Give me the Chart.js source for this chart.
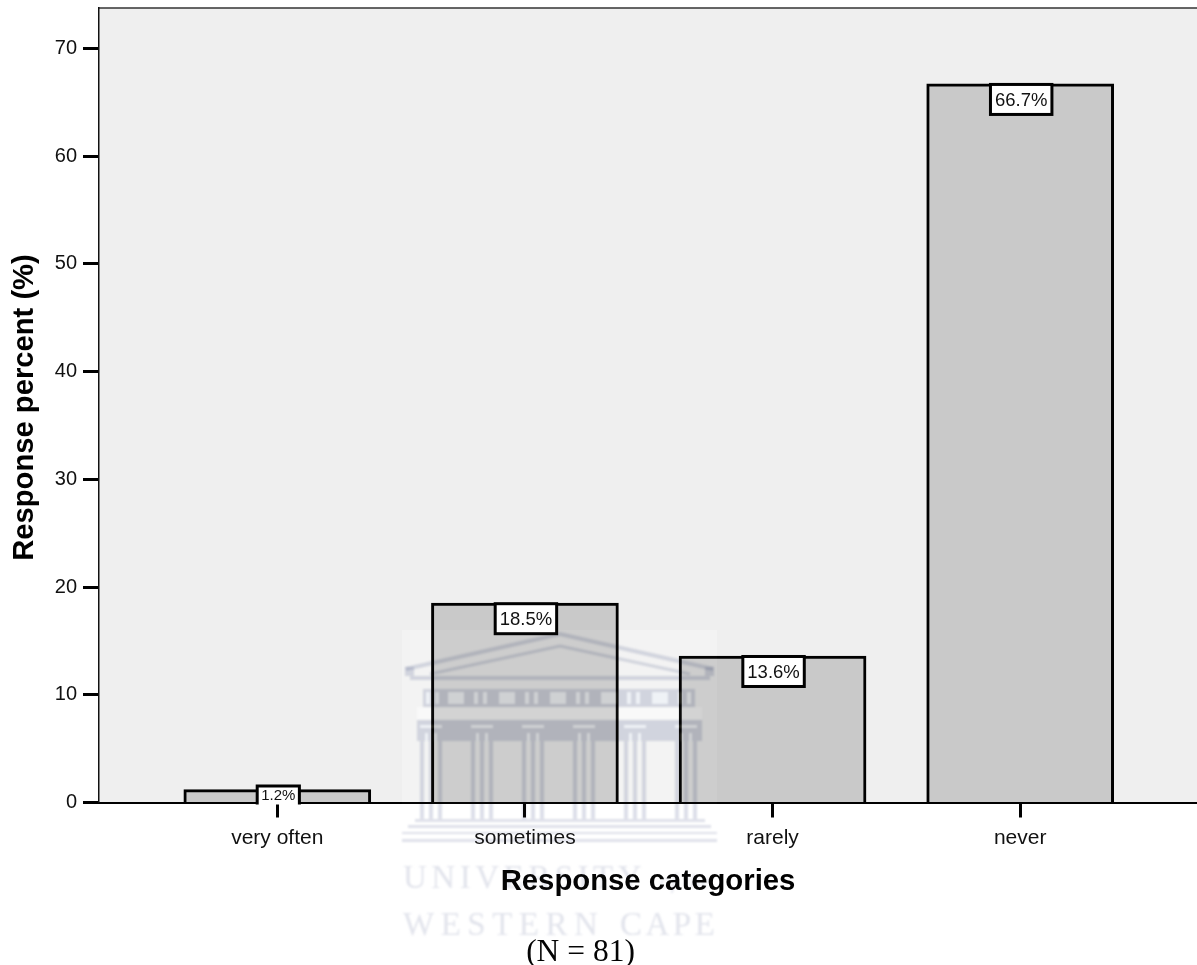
<!DOCTYPE html>
<html>
<head>
<meta charset="utf-8">
<title>Response categories</title>
<script src="https://cdn.jsdelivr.net/npm/chart.js@4/dist/chart.umd.min.js"></script>
<style>
  html, body { margin: 0; padding: 0; background: #fff; }
  #wrap { width: 1197px; height: 965px; }
</style>
</head>
<body>
<div id="wrap"><canvas id="responseChart" width="1197" height="965"></canvas></div>
<script>
// Response data
const categories = ['very often', 'sometimes', 'rarely', 'never'];
const responsePercent = [1.2, 18.5, 13.6, 66.7];
const percentLabels = ['1.2%', '18.5%', '13.6%', '66.7%'];
const yTickStep = 10;
const yAxisMax = 73.75;

const sansFont = '"Liberation Sans", Arial, sans-serif';
const serifFont = '"Liberation Serif", "Times New Roman", serif';

// plot background and the top frame line
const plotFrame = {
  id: 'plotFrame',
  beforeDraw: function (chart) {
    let ctx = chart.ctx;
    let area = chart.chartArea;
    ctx.save();
    ctx.fillStyle = '#fff';
    ctx.fillRect(0, 0, chart.width, chart.height);
    ctx.fillStyle = '#efefef';
    ctx.fillRect(area.left, area.top, area.right - area.left, area.bottom - area.top);
    ctx.strokeStyle = '#333';
    ctx.lineWidth = 1.5;
    ctx.beginPath();
    ctx.moveTo(area.left, area.top);
    ctx.lineTo(area.right, area.top);
    ctx.stroke();
    ctx.restore();
  }
};

// white boxes with the percent written inside the top of each bar
const valueBoxes = {
  id: 'valueBoxes',
  afterDraw: function (chart) {
    let ctx = chart.ctx;
    let baseline = chart.scales.y.getPixelForValue(0);
    let bars = chart.getDatasetMeta(0).data;
    ctx.save();
    bars.forEach(function (bar, i) {
      let small = baseline - bar.y < 30;
      let fontSize = small ? 15 : 18.5;
      ctx.font = fontSize + 'px ' + sansFont;
      let w = ctx.measureText(percentLabels[i]).width + (small ? 8 : 9);
      let h = small ? 18.5 : 30;
      let top = small ? baseline + 2 - h : bar.y + 0.5;
      let cx = bar.x + 1;
      ctx.fillStyle = '#fff';
      ctx.fillRect(cx - w / 2, top, w, h);
      ctx.strokeStyle = '#000';
      ctx.lineWidth = 3;
      if (small) {
        // the bottom edge is not drawn on the box sitting on the axis
        ctx.beginPath();
        ctx.moveTo(cx - w / 2, top + h);
        ctx.lineTo(cx - w / 2, top);
        ctx.lineTo(cx + w / 2, top);
        ctx.lineTo(cx + w / 2, top + h);
        ctx.stroke();
      } else {
        ctx.strokeRect(cx - w / 2, top, w, h);
      }
      ctx.fillStyle = '#111';
      ctx.textAlign = 'center';
      ctx.textBaseline = 'middle';
      ctx.fillText(percentLabels[i], cx, top + h / 2 + 1);
    });
    ctx.restore();
  }
};

// y axis title and the sample size note
const pageText = {
  id: 'pageText',
  afterDraw: function (chart) {
    let ctx = chart.ctx;
    ctx.save();
    ctx.fillStyle = '#000';
    ctx.textAlign = 'center';
    ctx.textBaseline = 'alphabetic';
    ctx.font = '31.5px ' + serifFont;
    ctx.fillText('(N = 81)', 580.5, 961);
    ctx.translate(33, 407.5);
    ctx.rotate(-Math.PI / 2);
    ctx.font = 'bold 29.2px ' + sansFont;
    ctx.fillText('Response percent (%)', 0, 0);
    ctx.restore();
  }
};

// faded university crest laid over the lower middle of the page
function drawCrest(ctx) {
  const tint = '#dcdfe9';

  ctx.strokeStyle = tint;
  ctx.lineWidth = 4;
  ctx.beginPath();
  ctx.moveTo(406, 669);
  ctx.lineTo(560, 634);
  ctx.lineTo(713, 669);
  ctx.stroke();
  ctx.lineWidth = 3;
  ctx.beginPath();
  ctx.moveTo(430, 674);
  ctx.lineTo(560, 646);
  ctx.lineTo(690, 674);
  ctx.stroke();

  ctx.fillStyle = tint;
  ctx.fillRect(405, 667, 9, 9);
  ctx.fillRect(705, 667, 9, 9);
  ctx.fillRect(410, 676, 300, 4);

  // frieze and lintel
  ctx.fillRect(423, 689, 272, 18);
  ctx.fillRect(417, 720, 285, 21);

  // column stripes
  for (let i = 0; i < 6; i++) {
    let x = 431 + i * 51;
    ctx.fillRect(x - 11, 741, 4, 78);
    ctx.fillRect(x - 2, 741, 4, 78);
    ctx.fillRect(x + 7, 741, 4, 78);
  }
}

// the pale openings are put back by lightening what is underneath
function drawCrestLights(ctx) {
  ctx.fillStyle = 'rgb(30,30,24)';
  for (let i = 0; i < 5; i++) {
    let x = 448 + i * 51;
    ctx.fillRect(x, 692, 16, 12);
    ctx.fillRect(x + 26, 692, 4, 12);
    ctx.fillRect(x + 35, 692, 4, 12);
  }
  ctx.fillRect(426, 692, 4, 12);
  ctx.fillRect(435, 692, 4, 12);
  for (let i = 0; i < 6; i++) {
    let x = 431 + i * 51;
    ctx.fillRect(x - 11, 725, 22, 3);
    ctx.fillRect(x - 6, 733, 3, 8);
    ctx.fillRect(x + 3, 733, 3, 8);
  }
  ctx.fillStyle = 'rgb(6,6,6)';
  ctx.fillRect(417, 707, 285, 13);
}

function drawCrestBase(ctx) {
  ctx.fillStyle = '#dfe1ea';
  ctx.fillRect(415, 819, 290, 3);
  ctx.fillRect(408, 825, 303, 3);
  ctx.fillRect(402, 832, 315, 2);
  ctx.fillRect(402, 839, 315, 3);

  // two lines of lettering
  ctx.fillStyle = '#e2e4ec';
  ctx.textAlign = 'left';
  ctx.textBaseline = 'alphabetic';
  ctx.font = '33px ' + serifFont;
  ctx.letterSpacing = '4.5px';
  ctx.fillText('UNIVERSITY', 403, 888);
  ctx.letterSpacing = '1px';
  ctx.font = 'italic 20px ' + serifFont;
  ctx.fillText('of the', 660, 888);
  ctx.font = '33px ' + serifFont;
  ctx.letterSpacing = '6.5px';
  ctx.fillText('WESTERN', 403, 935);
  ctx.letterSpacing = '3.5px';
  ctx.fillText('CAPE', 620, 935);
  ctx.letterSpacing = '0px';
}

const crestOverlay = {
  id: 'crestOverlay',
  afterDraw: function (chart) {
    let ctx = chart.ctx;
    ctx.save();
    // slightly brighter patch the crest sits on
    ctx.globalCompositeOperation = 'lighter';
    ctx.fillStyle = 'rgb(4,4,4)';
    ctx.fillRect(402, 630, 315, 330);

    ctx.globalCompositeOperation = 'multiply';
    ctx.filter = 'blur(0.8px)';
    drawCrest(ctx);
    drawCrestBase(ctx);

    ctx.globalCompositeOperation = 'lighter';
    drawCrestLights(ctx);
    ctx.restore();
  }
};

let chartCtx = document.getElementById('responseChart').getContext('2d');

new Chart(chartCtx, {
  type: 'bar',
  data: {
    datasets: [{
      data: responsePercent.map(function (value, i) {
        return { x: i, y: value };
      }),
      backgroundColor: '#c9c9c9',
      borderColor: '#000',
      borderWidth: 3,
      borderSkipped: 'bottom',
      barThickness: 187
    }]
  },
  options: {
    responsive: false,
    animation: false,
    layout: { padding: { left: 0, right: 0, top: 8, bottom: 65 } },
    plugins: {
      legend: { display: false },
      tooltip: { enabled: false }
    },
    scales: {
      x: {
        type: 'linear',
        min: -0.72,
        max: 3.714,
        offset: false,
        z: 1,
        afterFit: function (scale) {
          scale.height = 97.5;
          scale.paddingLeft = 0;
          scale.paddingRight = 0;
        },
        border: { color: '#000', width: 2 },
        grid: {
          offset: false,
          drawOnChartArea: false,
          drawTicks: true,
          tickLength: 15,
          tickWidth: 3,
          tickColor: '#000'
        },
        ticks: {
          stepSize: 1,
          includeBounds: false,
          autoSkip: false,
          maxRotation: 0,
          padding: 8,
          color: '#111',
          font: { family: sansFont, size: 21 },
          callback: function (value) { return categories[value]; }
        },
        title: {
          display: true,
          text: 'Response categories',
          color: '#000',
          padding: { top: 0, bottom: 1 },
          font: { family: sansFont, size: 29.3, weight: 'bold' }
        }
      },
      y: {
        min: 0,
        max: yAxisMax,
        afterFit: function (scale) {
          scale.width = 99;
          scale.paddingTop = 0;
          scale.paddingBottom = 0;
        },
        border: { color: '#111', width: 1.5 },
        grid: {
          drawOnChartArea: false,
          drawTicks: true,
          tickLength: 16,
          tickWidth: 3,
          tickColor: '#000'
        },
        ticks: {
          stepSize: yTickStep,
          includeBounds: false,
          padding: 6,
          color: '#111',
          font: { family: sansFont, size: 20 }
        }
      }
    }
  },
  plugins: [plotFrame, valueBoxes, pageText, crestOverlay]
});
</script>
</body>
</html>
